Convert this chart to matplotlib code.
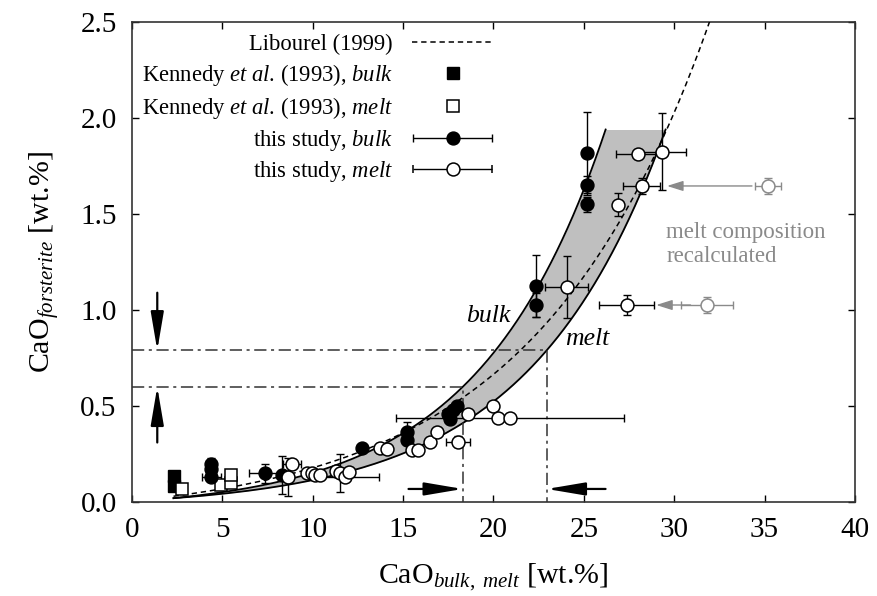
import numpy as np
import matplotlib
matplotlib.use("Agg")
import matplotlib.pyplot as plt
from matplotlib.container import ErrorbarContainer
from matplotlib.legend_handler import HandlerErrorbar

plt.rcParams["font.family"] = "Liberation Serif"
plt.rcParams["mathtext.fontset"] = "custom"
plt.rcParams["mathtext.rm"] = "Liberation Serif"
plt.rcParams["mathtext.it"] = "Liberation Serif:italic"

# Kennedy et al. (1993)
kennedy_bulk_x = [2.3, 2.3]
kennedy_bulk_y = [0.135, 0.085]
kennedy_melt_x = [2.75, 4.9, 5.5, 5.5]
kennedy_melt_y = [0.07, 0.09, 0.10, 0.14]

# this study, bulk: x, y, xerr, yerr
bulk_x = [4.4, 4.4, 4.4, 7.35, 8.28, 12.7, 15.2, 15.2, 17.5, 17.6, 17.77, 17.96,
          22.35, 22.35, 25.2, 25.2, 25.2]
bulk_y = [0.20, 0.17, 0.13, 0.15, 0.14, 0.28, 0.366, 0.323, 0.46, 0.43, 0.48, 0.50,
          1.125, 1.026, 1.82, 1.65, 1.55]
bulk_xerr = [0, 0, 0.55, 0.85, 0, 0, 0, 0, 0, 0, 0, 0,
             0, 0, 0, 0, 0]
bulk_yerr = [0.03, 0, 0, 0.05, 0.10, 0.02, 0.05, 0, 0, 0, 0, 0.02,
             0.16, 0.06, 0.21, 0.05, 0.04]

# this study, melt
melt_x = [8.65, 8.83, 9.66, 9.94, 10.1, 10.4, 11.3, 11.5, 11.8, 12.0, 13.7, 14.1,
          15.47, 15.8, 16.5, 16.9, 18.05, 18.6, 19.98, 20.26, 20.9,
          24.04, 26.9, 27.36, 27.97, 28.19, 29.3]
melt_y = [0.13, 0.20, 0.153, 0.15, 0.14, 0.14, 0.16, 0.15, 0.13, 0.158, 0.28, 0.278,
          0.27, 0.27, 0.314, 0.366, 0.314, 0.46, 0.50, 0.44, 0.44,
          1.12, 1.547, 1.026, 1.81, 1.646, 1.825]
melt_xerr = [0, 0.5, 0, 0, 0, 0, 0, 0, 1.85, 0, 0, 0,
             0, 0, 0, 0, 0.65, 0, 0, 0, 6.3,
             1.2, 0, 1.5, 1.2, 1.0, 1.35]
melt_yerr = [0.10, 0, 0, 0, 0, 0, 0, 0.10, 0, 0, 0, 0,
             0, 0, 0, 0, 0.03, 0, 0, 0, 0,
             0.16, 0.06, 0.05, 0, 0.04, 0.20]

# melt compositions before recalculation
recalc_x = [35.2, 31.8]
recalc_y = [1.646, 1.026]
recalc_xerr = [0.72, 1.43]
recalc_yerr = [0.04, 0.04]
recalc_to_x = [29.6, 29.0]

# partitioning curves: y = a * exp(b * x) - c
bulk_fit = (0.0481, 0.142, 0.0467)
melt_fit = (0.0389, 0.133, 0.0328)
libourel_fit = (0.0965, 0.103, 0.0923)
band_top = 1.94

# dash-dot read-off lines
guide_y = [0.60, 0.79]
guide_x = [18.3, 22.95]

MS = 9.3


def inv_fit(p, y):
    a, b, c = p
    return np.log((y + c) / a) / b


def fit(p, x):
    a, b, c = p
    return a * np.exp(b * x) - c


fig = plt.figure(figsize=(8.78, 5.96), dpi=100)
ax = fig.add_axes([0.1503, 0.1577, 0.8235, 0.8054])

yy = np.linspace(0.02, band_top, 300)
ax.fill_betweenx(yy, inv_fit(bulk_fit, yy), inv_fit(melt_fit, yy),
                 color="#bfbfbf", lw=0, zorder=1)
ax.plot(inv_fit(bulk_fit, yy), yy, color="k", lw=1.3, zorder=2)
ax.plot(inv_fit(melt_fit, yy), yy, color="k", lw=1.3, zorder=2)
xx = np.linspace(2.3, 33, 300)
ax.plot(xx, fit(libourel_fit, xx), color="k", lw=1.1, ls=(0, (3.5, 2.5)), zorder=3)

for gx, gy in zip(guide_x, guide_y):
    ax.plot([0, gx, gx], [gy, gy, 0], color="#333333", lw=1.1,
            ls=(0, (8, 3, 2, 3)), zorder=2)

ax.text(19.7, 0.97, "bulk", style="italic", fontsize=18.5, ha="center", va="center")
ax.text(25.2, 0.85, "melt", style="italic", fontsize=18.5, ha="center", va="center")

eb_kw = dict(fmt="none", ecolor="k", elinewidth=1.0, capsize=3.2, capthick=1.0, zorder=4)
ax.errorbar(bulk_x, bulk_y, xerr=bulk_xerr, yerr=bulk_yerr, **eb_kw)
ax.errorbar(melt_x, melt_y, xerr=melt_xerr, yerr=melt_yerr, **eb_kw)
ax.errorbar(recalc_x, recalc_y, xerr=recalc_xerr, yerr=recalc_yerr, fmt="none",
            ecolor="#8a8a8a", elinewidth=1.0, capsize=3.2, capthick=1.0, zorder=4)

ax.plot(kennedy_bulk_x, kennedy_bulk_y, ls="none", marker="s", ms=MS,
        mfc="k", mec="k", zorder=5)
ax.plot(kennedy_melt_x, kennedy_melt_y, ls="none", marker="s", ms=MS,
        mfc="white", mec="k", mew=1.1, zorder=5)
ax.plot(bulk_x, bulk_y, ls="none", marker="o", ms=MS, mfc="k", mec="k", zorder=6)
ax.plot(melt_x, melt_y, ls="none", marker="o", ms=MS, mfc="white", mec="k",
        mew=1.1, zorder=7)
ax.plot(recalc_x, recalc_y, ls="none", marker="o", ms=MS, mfc="white",
        mec="#8a8a8a", mew=1.1, zorder=7)

for x0, x1, y in zip(recalc_x, recalc_to_x, recalc_y):
    ax.annotate("", xy=(x1, y), xytext=(x0 - 0.9, y),
                arrowprops=dict(arrowstyle="-|>,head_length=0.7,head_width=0.22",
                                color="#8a8a8a", lw=1.0, mutation_scale=14,
                                shrinkA=0, shrinkB=0), zorder=4)
ax.text(29.55, 1.34, "melt composition\nrecalculated", color="#8a8a8a", fontsize=16.5,
        ha="left", va="center", linespacing=1.2)

# arrows pointing at the read-off values
big_arrow = dict(arrowstyle="-|>,head_length=1.3,head_width=0.22", color="k",
                 lw=1.6, mutation_scale=18, shrinkA=0, shrinkB=0)
ax.annotate("", xy=(1.4, guide_y[1]), xytext=(1.4, 1.09), arrowprops=big_arrow)
ax.annotate("", xy=(1.4, guide_y[0]), xytext=(1.4, 0.31), arrowprops=big_arrow)
ax.annotate("", xy=(guide_x[0], 0.068), xytext=(15.3, 0.068), arrowprops=big_arrow)
ax.annotate("", xy=(guide_x[1], 0.068), xytext=(26.2, 0.068), arrowprops=big_arrow)

ax.set_xlim(0, 40)
ax.set_ylim(0, 2.5)
ax.set_xticks(np.arange(0, 41, 5))
ax.set_yticks(np.arange(0, 2.51, 0.5))
ax.yaxis.set_major_formatter(matplotlib.ticker.FormatStrFormatter("%.1f"))
ax.tick_params(direction="in", length=5, width=1, top=True, right=True,
               labelsize=21, pad=11)
for s in ax.spines.values():
    s.set_linewidth(1.2)
    s.set_color("#333333")
ax.set_xlabel("CaO$_{bulk,\\ melt}$ [wt.%]", fontsize=21.5, labelpad=13)
ax.set_ylabel("CaO$_{forsterite}$ [wt.%]", fontsize=21.5, labelpad=14)

# legend proxies
h_lib, = ax.plot([], [], color="k", lw=1.1, ls=(0, (3.5, 2.5)))
h_kb, = ax.plot([], [], ls="none", marker="s", ms=MS, mfc="k", mec="k")
h_km, = ax.plot([], [], ls="none", marker="s", ms=MS, mfc="white", mec="k", mew=1.1)
h_tb = ax.errorbar([np.nan], [np.nan], xerr=[1.0], fmt="o", ms=MS, mfc="k", mec="k",
                   ecolor="k", elinewidth=1.0, capsize=3.2)
h_tm = ax.errorbar([np.nan], [np.nan], xerr=[1.0], fmt="o", ms=MS, mfc="white",
                   mec="k", mew=1.1, ecolor="k", elinewidth=1.0, capsize=3.2)
labels = ["Libourel (1999)",
          "Kennedy $et\\ al$. (1993), $bulk$",
          "Kennedy $et\\ al$. (1993), $melt$",
          "this study, $bulk$",
          "this study, $melt$"]
ax.legend([h_lib, h_kb, h_km, h_tb, h_tm], labels, loc="upper right",
          bbox_to_anchor=(0.50, 0.975), frameon=False, markerfirst=False,
          fontsize=16.3, handlelength=3.6, handletextpad=0.85, labelspacing=0.3,
          numpoints=1, borderpad=0, borderaxespad=0,
          handler_map={ErrorbarContainer: HandlerErrorbar(xerr_size=1.75)})

fig.savefig("out.png", dpi=100)
